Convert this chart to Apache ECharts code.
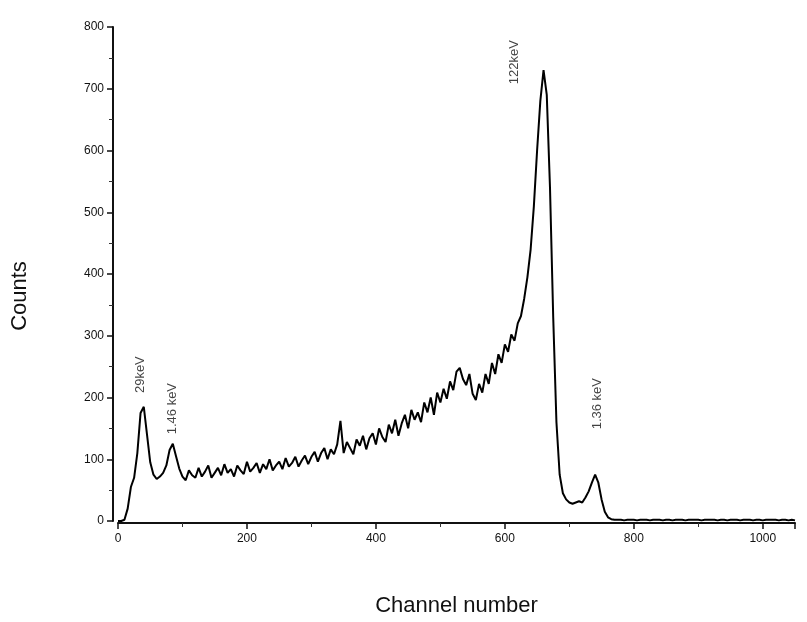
<!DOCTYPE html>
<html>
<head>
<meta charset="utf-8">
<script src="https://cdn.jsdelivr.net/npm/echarts@6/dist/echarts.min.js"></script>
<style>
  html, body { margin: 0; padding: 0; background: #fff; }
  #chart { width: 807px; height: 622px; }
</style>
</head>
<body>
<div id="chart"></div>
<script>
// Channel numbers of the spectrum samples
const channels = [
  0, 5, 10, 15, 20, 25, 30, 35, 40, 45, 50, 55, 60, 65, 70, 75, 80, 85, 90, 95,
  100, 105, 110, 115, 120, 125, 130, 135, 140, 145, 150, 155, 160, 165, 170, 175, 180, 185, 190, 195,
  200, 205, 210, 215, 220, 225, 230, 235, 240, 245, 250, 255, 260, 265, 270, 275, 280, 285, 290, 295,
  300, 305, 310, 315, 320, 325, 330, 335, 340, 345, 350, 355, 360, 365, 370, 375, 380, 385, 390, 395,
  400, 405, 410, 415, 420, 425, 430, 435, 440, 445, 450, 455, 460, 465, 470, 475, 480, 485, 490, 495,
  500, 505, 510, 515, 520, 525, 530, 535, 540, 545, 550, 555, 560, 565, 570, 575, 580, 585, 590, 595,
  600, 605, 610, 615, 620, 625, 630, 635, 640, 645, 650, 655, 660, 665, 670, 675, 680, 685, 690, 695,
  700, 705, 710, 715, 720, 725, 730, 735, 740, 745, 750, 755, 760, 765, 770, 775, 780, 785, 790, 795,
  800, 805, 810, 815, 820, 825, 830, 835, 840, 845, 850, 855, 860, 865, 870, 875, 880, 885, 890, 895,
  900, 905, 910, 915, 920, 925, 930, 935, 940, 945, 950, 955, 960, 965, 970, 975, 980, 985, 990, 995,
  1000, 1005, 1010, 1015, 1020, 1025, 1030, 1035, 1040, 1045, 1050
];

// Counts recorded in each channel
const counts = [
  0, 0, 2, 20, 55, 70, 110, 175, 185, 140, 95, 75, 68, 72, 78, 90, 115, 125, 105, 85,
  72, 66, 82, 74, 70, 86, 72, 80, 90, 70, 78, 86, 74, 92, 78, 84, 72, 90, 82, 76,
  96, 80, 86, 94, 78, 92, 84, 100, 82, 90, 96, 84, 102, 88, 94, 104, 88, 98, 106, 92,
  104, 112, 96, 110, 118, 100, 116, 108, 124, 162, 110, 128, 118, 108, 132, 122, 138, 116, 134, 142,
  124, 150, 136, 128, 156, 142, 164, 138, 158, 172, 150, 180, 164, 176, 160, 192, 176, 200, 172, 208,
  192, 214, 198, 226, 212, 242, 248, 230, 220, 238, 206, 196, 222, 208, 238, 222, 256, 238, 270, 256,
  286, 274, 302, 292, 320, 332, 360, 395, 440, 510, 600, 680, 730, 690, 540, 330, 160, 75, 45, 35,
  30, 28, 30, 32, 30, 38, 48, 62, 75, 62, 35, 15, 6, 3, 2, 2, 2, 1, 2, 2,
  2, 1, 2, 2, 2, 1, 2, 2, 2, 1, 2, 2, 1, 2, 2, 2, 1, 2, 2, 2,
  2, 1, 2, 2, 2, 2, 1, 2, 2, 1, 2, 2, 2, 1, 2, 2, 2, 1, 2, 2,
  1, 2, 2, 2, 2, 1, 2, 2, 1, 2, 1
];

// Peak annotations: channel, counts height of the text centre, text
const peakChannels = [34, 84, 615, 743];
const peakLabelHeights = [237, 182, 743, 190];
const peakTexts = ['29keV', '1.46 keV', '122keV', '1.36 keV'];

// Axis ticks
const xTicks = [0, 200, 400, 600, 800, 1000];
const yTicks = [0, 100, 200, 300, 400, 500, 600, 700, 800];

const chart = echarts.init(document.getElementById('chart'));

const spectrum = channels.map((c, i) => [c, counts[i]]);
const peaks = peakChannels.map((c, i) => ({ value: [c, peakLabelHeights[i]], name: peakTexts[i] }));

const font = 'Liberation Sans, Arial, sans-serif';

chart.setOption({
  backgroundColor: '#ffffff',
  animation: false,
  grid: { left: 118, right: 12, top: 27, bottom: 93, containLabel: false },
  xAxis: {
    type: 'value',
    min: 0,
    max: 1050,
    interval: 200,
    offset: 2,
    name: 'Channel number',
    nameLocation: 'middle',
    nameGap: 72,
    nameTextStyle: { fontFamily: font, fontSize: 22, color: '#111' },
    axisLine: { show: true, onZero: false, lineStyle: { color: '#111', width: 2 } },
    axisTick: { show: true, inside: false, length: 6, lineStyle: { color: '#111', width: 1.5 } },
    minorTick: { show: true, splitNumber: 2, length: 4, lineStyle: { color: '#333', width: 1 } },
    axisLabel: {
      fontFamily: font, fontSize: 12, color: '#111', margin: 10,
      formatter: v => xTicks.includes(v) ? String(v) : ''
    },
    splitLine: { show: false }
  },
  yAxis: {
    type: 'value',
    min: 0,
    max: 800,
    interval: 100,
    offset: 5,
    axisLine: { show: true, onZero: false, lineStyle: { color: '#111', width: 2 } },
    axisTick: { show: true, inside: false, length: 6, lineStyle: { color: '#111', width: 1.5 } },
    minorTick: { show: true, splitNumber: 2, length: 4, lineStyle: { color: '#333', width: 1 } },
    axisLabel: {
      fontFamily: font, fontSize: 12, color: '#111', margin: 9,
      formatter: v => yTicks.includes(v) ? String(v) : ''
    },
    splitLine: { show: false }
  },
  series: [
    {
      type: 'line',
      data: spectrum,
      showSymbol: false,
      lineStyle: { color: '#000', width: 2 },
      z: 3
    },
    {
      type: 'scatter',
      data: peaks,
      symbolSize: 0,
      label: {
        show: true,
        position: 'inside',
        rotate: 90,
        formatter: p => p.name,
        fontFamily: font,
        fontSize: 13,
        color: '#111'
      },
      z: 4
    }
  ],
  graphic: [
    {
      type: 'text',
      x: 20,
      y: 296,
      rotation: Math.PI / 2,
      style: {
        text: 'Counts',
        fontFamily: font,
        fontSize: 22,
        fill: '#111',
        align: 'center',
        verticalAlign: 'middle'
      }
    }
  ]
});
</script>
</body>
</html>
